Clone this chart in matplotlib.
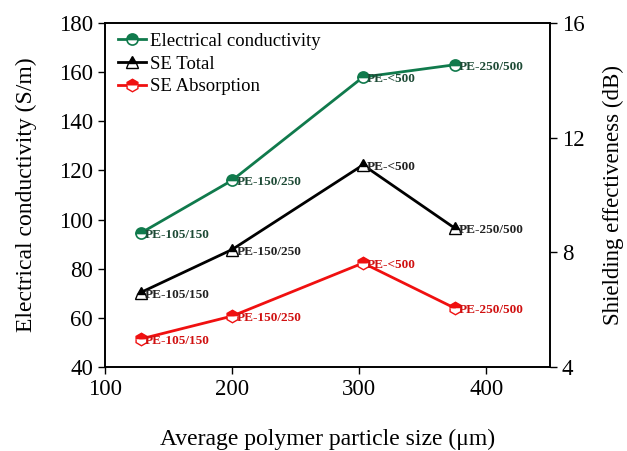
import numpy as np
import matplotlib.pyplot as plt

plt.rcParams['font.family'] = ['Liberation Serif', 'DejaVu Serif']

# data
size = [128, 200, 303, 375]
labels = ['PE-105/150', 'PE-150/250', 'PE-<500', 'PE-250/500']
conductivity = [94.5, 116, 158, 163]
se_total = [6.6, 8.1, 11.05, 8.85]
se_absorption = [4.98, 5.78, 7.63, 6.06]

green = '#107a4c'
red = '#f01010'

fig = plt.figure(figsize=(6.27, 4.51), dpi=100)
ax = fig.add_axes([0.1675, 0.186, 0.7095, 0.763])
ax2 = ax.twinx()

l1, = ax.plot(size, conductivity, color=green, lw=2, marker='o', ms=8,
              fillstyle='top', markerfacecoloralt='white', mec=green, mew=1.2,
              label='Electrical conductivity')
l2, = ax2.plot(size, se_total, color='black', lw=2, marker='^', ms=8.5,
               fillstyle='top', markerfacecoloralt='white', mec='black', mew=1.0,
               label='SE Total')
l3, = ax2.plot(size, se_absorption, color=red, lw=2, marker='h', ms=9,
               fillstyle='top', markerfacecoloralt='white', mec=red, mew=1.0,
               label='SE Absorption')

for x, y, t in zip(size, conductivity, labels):
    ax.annotate(t, (x, y), xytext=(3, -1.5), textcoords='offset points',
                fontsize=9.5, fontweight='bold', color='#1d4a35', va='center')
for x, y, t in zip(size, se_total, labels):
    ax2.annotate(t, (x, y), xytext=(3, -1.5), textcoords='offset points',
                 fontsize=9.5, fontweight='bold', color='#222222', va='center')
for x, y, t in zip(size, se_absorption, labels):
    ax2.annotate(t, (x, y), xytext=(3, -1.5), textcoords='offset points',
                 fontsize=9.5, fontweight='bold', color='#d01010', va='center')

ax.set_xlim(100, 450)
ax.set_ylim(40, 180)
ax2.set_ylim(4, 16)
ax.set_xticks([100, 200, 300, 400])
ax.set_yticks(np.arange(40, 181, 20))
ax2.set_yticks([4, 8, 12, 16])

ax.set_xlabel('Average polymer particle size (μm)', fontsize=17, labelpad=21)
ax.set_ylabel('Electrical conductivity (S/m)', fontsize=17, labelpad=16)
ax2.set_ylabel('Shielding effectiveness (dB)', fontsize=16.5, labelpad=13)

for a in (ax, ax2):
    a.tick_params(labelsize=16.5, direction='out', length=5, width=1)
    for s in a.spines.values():
        s.set_linewidth(1.2)

ax.legend(handles=[l1, l2, l3], loc='upper left', frameon=False, fontsize=13.5,
          handlelength=1.5, handletextpad=0.2, labelspacing=0.3,
          borderaxespad=0.3, bbox_to_anchor=(0.0, 1.01))

fig.savefig('out.png', dpi=100)
